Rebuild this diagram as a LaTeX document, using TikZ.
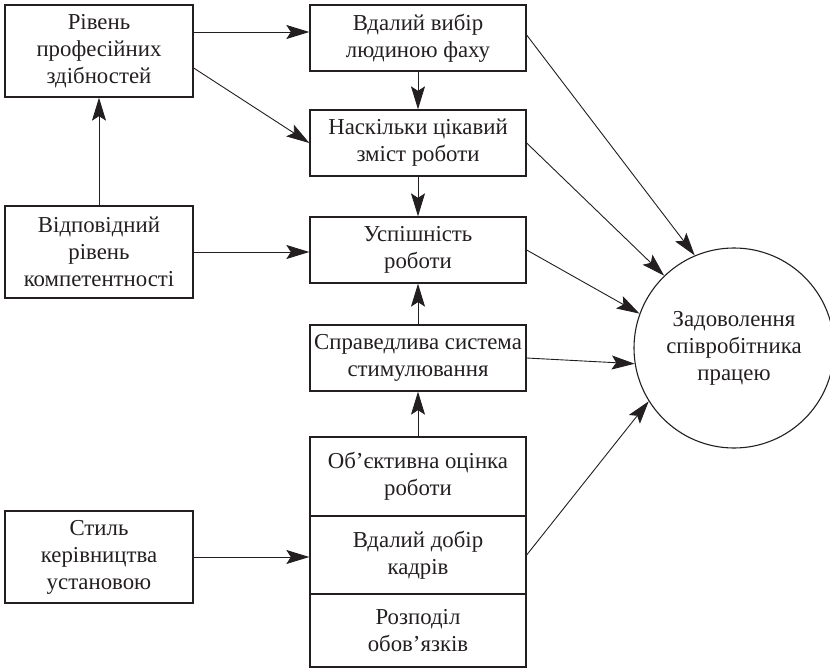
\documentclass[tikz,border=0pt]{standalone}
\usepackage{fontspec}
\setmainfont{Liberation Serif}
\usetikzlibrary{arrows.meta,calc}
\definecolor{ink}{HTML}{231F20}
\tikzset{
  box/.style={draw=ink, line width=1.3pt, rectangle, align=center, inner sep=2pt,
    text=ink, font=\fontsize{22.8}{27}\selectfont},
  lbox/.style={box, minimum width=188pt, minimum height=92pt},
  mbox/.style={box, minimum width=216pt, minimum height=66pt},
  conn/.style={draw=ink, line width=0.9pt, -{Stealth[length=23pt,width=14pt,inset=4.5pt]}}
}
\begin{document}
\begin{tikzpicture}[x=1pt,y=-1pt]
\useasboundingbox (0,0) rectangle (830,669);
% left column
\node[lbox] (rivn) at (99,51) {Рівень\\професійних\\здібностей};
\node[lbox] (vidp) at (99,252) {Відповідний\\рівень\\компетентності};
\node[lbox] (styl) at (99,557) {Стиль\\керівництва\\установою};
% middle column
\node[mbox] (vybir) at (418,38) {Вдалий вибір\\людиною фаху};
\node[mbox] (cikav) at (418,143) {Наскільки цікавий\\зміст роботи};
\node[mbox] (uspish) at (418,250) {Успішність\\роботи};
\node[mbox] (sprav) at (418,358) {Справедлива система\\стимулювання};
\node[box, minimum width=216pt, minimum height=79pt] (obj) at (418,476.5) {Об’єктивна оцінка\\роботи};
\node[box, minimum width=216pt, minimum height=78pt] (dobir) at (418,555) {Вдалий добір\\кадрів};
\node[box, minimum width=216pt, minimum height=73pt] (rozp) at (418,630.5) {Розподіл\\обов’язків};
% circle
\node[draw=ink, line width=1.1pt, circle, minimum size=200pt, inner sep=0pt, align=center,
  text=ink, font=\fontsize{22.8}{27}\selectfont] (circ) at (734,348) {Задоволення\\співробітника\\працею};
% helper coordinates
\coordinate (rivnA) at ([yshift=19pt]rivn.east);
\coordinate (rivnB) at ([yshift=-17pt]rivn.east);
\coordinate (vybirR) at ([yshift=3pt]vybir.east);
% connectors
\draw[conn] (rivnA) -- (vybir.west |- rivnA);
\draw[conn] (rivnB) -- (cikav.west);
\draw[conn] (vidp.north) -- (rivn.south);
\draw[conn] (vidp.east) -- (uspish.west |- vidp.east);
\draw[conn] (styl.east) -- (dobir.west |- styl.east);
\draw[conn] (vybir.south) -- (cikav.north);
\draw[conn] (cikav.south) -- (uspish.north);
\draw[conn] (sprav.north) -- (uspish.south);
\draw[conn] (obj.north) -- (sprav.south);
\draw[conn] (vybirR) -- (circ.113.8);
\draw[conn] (cikav.east) -- (circ.134.6);
\draw[conn] (uspish.east) -- (circ.160);
\draw[conn] (sprav.east) -- (circ.189.5);
\draw[conn] (dobir.east) -- (circ.212.6);
\end{tikzpicture}
\end{document}
